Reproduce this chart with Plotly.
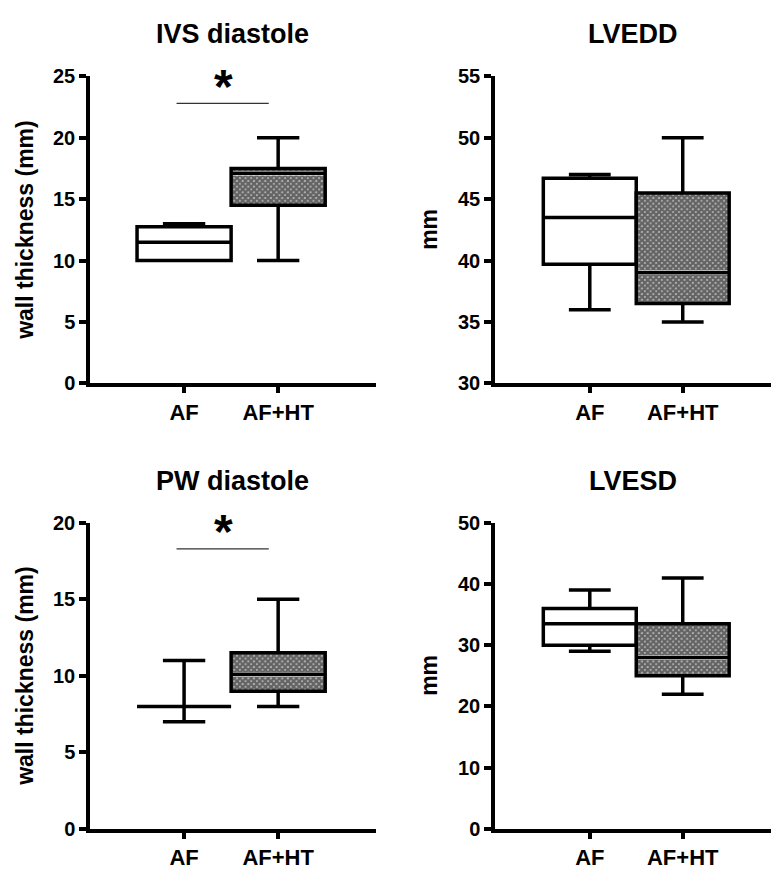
import plotly.graph_objects as go

# Groups compared in every panel
groups = ["AF", "AF+HT"]

# Panel titles, axis titles and value axes
titles = ["IVS diastole", "LVEDD", "PW diastole", "LVESD"]
y_titles = ["wall thickness (mm)", "mm", "wall thickness (mm)", "mm"]
y_ranges = [[0, 25], [30, 55], [0, 20], [0, 50]]
y_dticks = [5, 5, 5, 10]

# Box-and-whisker statistics, one [AF, AF+HT] pair per panel
lower_whisker = [[10, 10], [36, 35], [7, 8], [29, 22]]
q1 = [[10, 14.5], [39.7, 36.5], [8, 9], [30, 25]]
median = [[11.5, 17.1], [43.5, 39], [8, 10.1], [33.5, 28]]
q3 = [[12.75, 17.5], [46.7, 45.5], [8, 11.5], [36, 33.5]]
upper_whisker = [[13, 20], [47, 50], [11, 15], [39, 41]]

# Significance brackets: panel index, bar level, star level
sig_panels = [0, 2]
sig_bar_y = [22.8, 18.3]
sig_star_y = [24.2, 19.4]

# ---- layout geometry (pixels in a 771 x 874 page) ----
W, H = 771, 874
px_x = [(90, 376), (495, 771), (90, 376), (495, 771)]
px_y = [(67, 382), (67, 382), (525, 839), (525, 839)]
x_ranges = [[-1.0, 2.04], [-1.02, 1.95], [-1.0, 2.04], [-1.02, 1.95]]
title_y_px = [24, 24, 482, 482]
ytitle_x_px = [25, 429, 25, 429]

FONT = "Liberation Sans, Arial, sans-serif"
BOX_W = 1.0
LW = 3.5
HATCH = dict(shape="x", fgcolor="black", bgcolor="#c8c8c8", size=4, solidity=0.85)

fig = go.Figure()

for p in range(4):
    ax = "" if p == 0 else str(p + 1)
    xa, ya = "x" + ax, "y" + ax
    unit_px = (px_y[p][1] - px_y[p][0]) / (y_ranges[p][1] - y_ranges[p][0])
    gap = 2.3 / unit_px

    # checkered fill for the AF+HT box, left open in a thin band at the median
    g = 1
    lo = [q1[p][g], median[p][g] + gap]
    hi = [median[p][g] - gap, q3[p][g]]
    for b0, b1 in zip(lo, hi):
        if b1 > b0:
            fig.add_trace(go.Bar(
                x=[groups[g]], base=[b0], y=[b1 - b0],
                width=BOX_W, xaxis=xa, yaxis=ya, showlegend=False,
                hoverinfo="skip",
                marker=dict(color="white", line=dict(width=0), pattern=HATCH),
            ))

    for g in range(2):
        fig.add_trace(go.Box(
            x=[groups[g]],
            q1=[q1[p][g]], median=[median[p][g]], q3=[q3[p][g]],
            lowerfence=[lower_whisker[p][g]], upperfence=[upper_whisker[p][g]],
            width=BOX_W, whiskerwidth=0.45, boxpoints=False,
            fillcolor="white" if g == 0 else "rgba(0,0,0,0)",
            line=dict(color="black", width=LW),
            xaxis=xa, yaxis=ya, showlegend=False, hoverinfo="skip",
        ))

    xd = [px_x[p][0] / W, px_x[p][1] / W]
    yd = [1 - px_y[p][1] / H, 1 - px_y[p][0] / H]
    fig.update_layout(**{
        "xaxis" + ax: dict(
            domain=xd, range=x_ranges[p], type="category",
            categoryorder="array", categoryarray=groups,
            showline=True, linewidth=LW, linecolor="black",
            ticks="outside", ticklen=6, tickwidth=LW, tickcolor="black",
            showgrid=False, zeroline=False,
            tickfont=dict(family=FONT, size=22, color="black", weight="bold"),
            anchor=ya, fixedrange=True,
        ),
        "yaxis" + ax: dict(
            domain=yd, range=y_ranges[p], dtick=y_dticks[p], tick0=0,
            showline=True, linewidth=LW, linecolor="black",
            ticks="outside", ticklen=7, tickwidth=LW, tickcolor="black",
            showgrid=False, zeroline=False,
            tickfont=dict(family=FONT, size=20, color="black", weight="bold"),
            anchor=xa, fixedrange=True,
        ),
    })

    fig.add_annotation(
        text=titles[p], xref="paper", yref="paper",
        x=(xd[0] + xd[1]) / 2, y=1 - title_y_px[p] / H,
        xanchor="center", yanchor="middle", showarrow=False,
        font=dict(family=FONT, size=27, color="black", weight="bold"),
    )
    fig.add_annotation(
        text=y_titles[p], xref="paper", yref="paper",
        x=ytitle_x_px[p] / W, y=(yd[0] + yd[1]) / 2, textangle=-90,
        xanchor="center", yanchor="middle", showarrow=False,
        font=dict(family=FONT, size=23, color="black", weight="bold"),
    )

for i, p in enumerate(sig_panels):
    ax = "" if p == 0 else str(p + 1)
    fig.add_shape(
        type="line", xref="x" + ax, yref="y" + ax,
        x0=-0.08, x1=0.9, y0=sig_bar_y[i], y1=sig_bar_y[i],
        line=dict(color="#333333", width=1.2),
    )
    fig.add_annotation(
        text="*", xref="x" + ax, yref="y" + ax,
        x=0.42, y=sig_star_y[i], xanchor="center", yanchor="middle",
        showarrow=False,
        font=dict(family=FONT, size=48, color="black", weight="bold"),
    )

fig.update_layout(
    width=W, height=H, margin=dict(l=0, r=0, t=0, b=0),
    paper_bgcolor="white", plot_bgcolor="white",
    barmode="overlay", boxmode="overlay",
)

fig.write_html("out.html")
